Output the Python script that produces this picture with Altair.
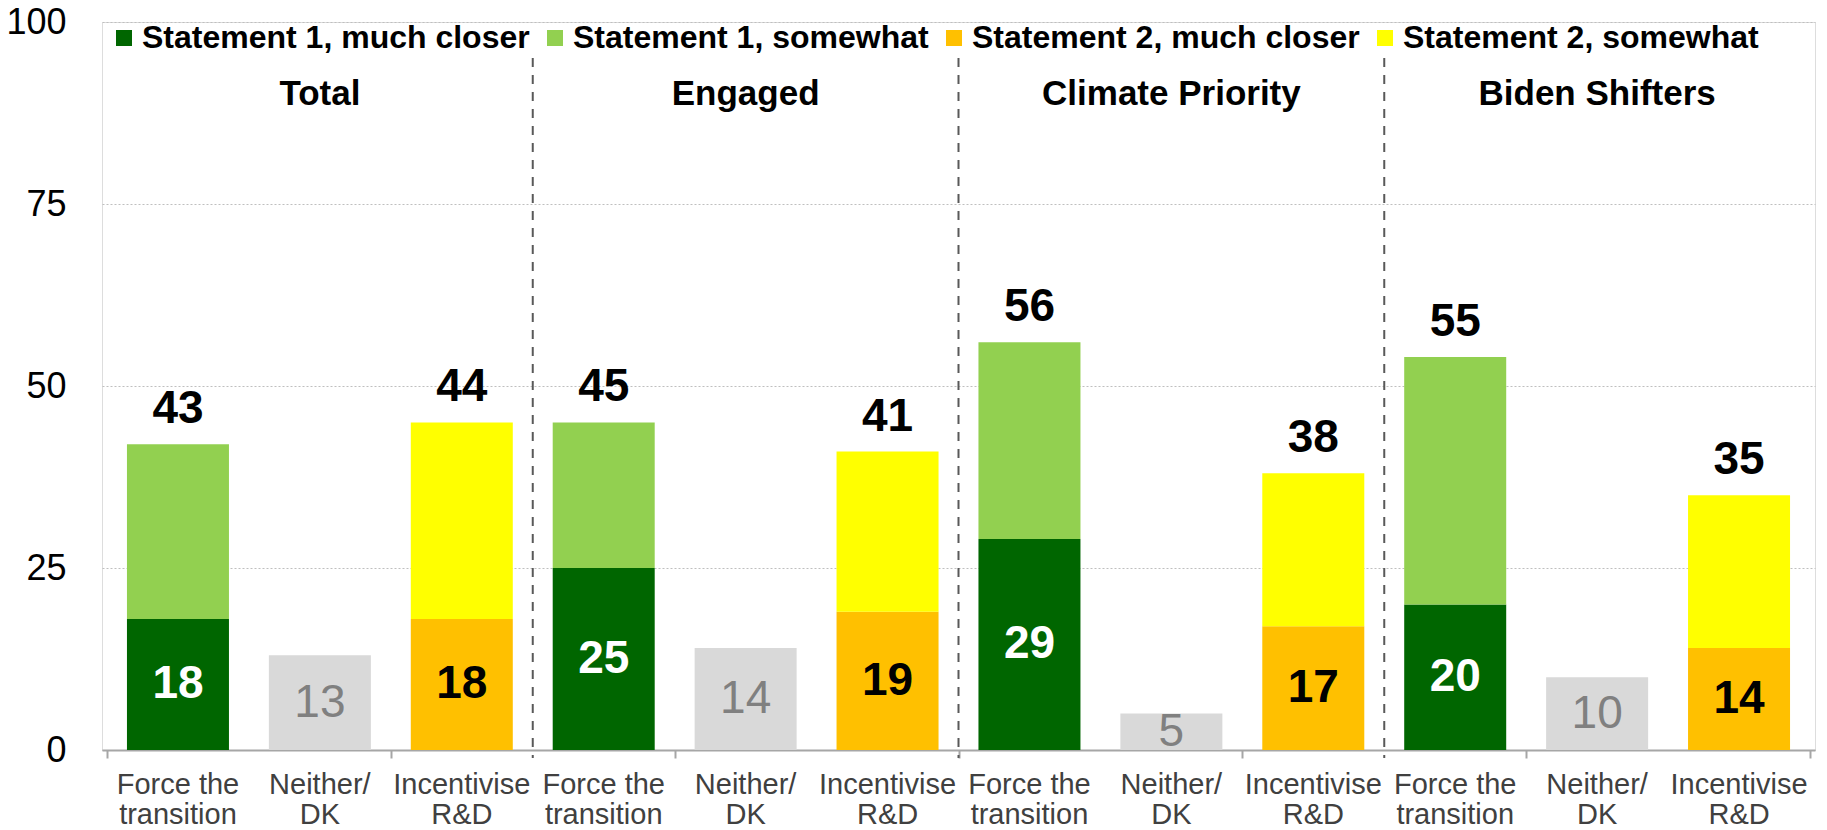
import altair as alt
import pandas as pd

# ---- data ----
groups = ["Total", "Engaged", "Climate Priority", "Biden Shifters"]
categories = ["Force the\ntransition", "Neither/\nDK", "Incentivise\nR&D"]
series_names = ["Statement 1, much closer", "Statement 1, somewhat",
                "Statement 2, much closer", "Statement 2, somewhat"]
s1_much = [18, 25, 29, 20]
s1_some = [24, 20, 27, 34]
s2_much = [18, 19, 17, 14]
s2_some = [27, 22, 21, 21]
neither = [13, 14, 5, 10]
force_totals = [43, 45, 56, 55]
incent_totals = [44, 41, 38, 35]

series_colors = ["#006600", "#92D050", "#FFC000", "#FFFF00"]

FONT = "Liberation Sans"
BAR = 102

# ---- tables built from the arrays ----
stack_rows, neither_rows, bottom_rows, top_rows, cat_rows = [], [], [], [], []
for g, name in enumerate(groups):
    base = g * len(categories)
    p_force, p_nei, p_inc = base + 0.5, base + 1.5, base + 2.5
    stack_rows += [
        dict(pos=p_force, series=series_names[0], value=s1_much[g], o=0),
        dict(pos=p_force, series=series_names[1], value=s1_some[g], o=1),
        dict(pos=p_inc, series=series_names[2], value=s2_much[g], o=0),
        dict(pos=p_inc, series=series_names[3], value=s2_some[g], o=1),
    ]
    neither_rows.append(dict(pos=p_nei, value=neither[g]))
    bottom_rows += [
        dict(pos=p_force, value=s1_much[g], kind="force"),
        dict(pos=p_inc, value=s2_much[g], kind="incent"),
    ]
    top_rows += [
        dict(pos=p_force, height=s1_much[g] + s1_some[g], label=force_totals[g]),
        dict(pos=p_inc, height=s2_much[g] + s2_some[g], label=incent_totals[g]),
    ]
    for k, c in enumerate(categories):
        cat_rows.append(dict(pos=base + k + 0.5, label=c))

n_slots = len(groups) * len(categories)
df_stack = pd.DataFrame(stack_rows)
df_nei = pd.DataFrame(neither_rows)
df_bottom = pd.DataFrame(bottom_rows)
df_top = pd.DataFrame(top_rows)
df_cat = pd.DataFrame(cat_rows)
df_group = pd.DataFrame(dict(group=groups,
                             pos=[g * len(categories) + len(categories) / 2 for g in range(len(groups))]))
df_div = pd.DataFrame(dict(b=[g * len(categories) for g in range(1, len(groups))]))

xscale = alt.Scale(domain=[0, n_slots], nice=False, zero=False)
yscale = alt.Scale(domain=[0, 100], nice=False)

x_axis = alt.Axis(values=list(range(0, n_slots + 1, 2)), labels=False, ticks=True,
                  tickSize=8, tickColor="#a6a6a6", tickWidth=2, domainColor="#a6a6a6",
                  domainWidth=2, grid=False, title=None)
y_axis = alt.Axis(values=[0, 25, 50, 75, 100], domain=False, ticks=False, tickSize=0,
                  labelFontSize=36, labelColor="#000000", labelFont=FONT, labelPadding=36,
                  grid=True, gridDash=[2, 2], gridColor="#bfbfbf", gridWidth=1, title=None)

bars = alt.Chart(df_stack).mark_bar(size=BAR).encode(
    x=alt.X("pos:Q", scale=xscale, axis=x_axis),
    y=alt.Y("value:Q", stack="zero", scale=yscale, axis=y_axis),
    color=alt.Color("series:N", scale=alt.Scale(domain=series_names, range=series_colors),
                    legend=alt.Legend(orient="none", legendX=6, legendY=0, direction="horizontal",
                                      columns=4, title=None, symbolType="square", symbolSize=256,
                                      symbolStrokeWidth=0, labelFont=FONT, labelFontSize=32,
                                      labelFontWeight="bold", labelColor="#000000", labelOffset=2,
                                      columnPadding=9, labelLimit=1000, padding=0)),
    order=alt.Order("o:Q"),
)

nei_bars = alt.Chart(df_nei).mark_bar(size=BAR, color="#D9D9D9").encode(
    x=alt.X("pos:Q", scale=xscale), y=alt.Y("value:Q", scale=yscale))

inner_force = alt.Chart(df_bottom).transform_filter(alt.datum.kind == "force").transform_calculate(
    mid="datum.value / 2").mark_text(font=FONT, fontSize=46, fontWeight="bold", color="#ffffff",
                                     baseline="middle").encode(
    x=alt.X("pos:Q", scale=xscale), y=alt.Y("mid:Q", scale=yscale), text="value:Q")

inner_inc = alt.Chart(df_bottom).transform_filter(alt.datum.kind == "incent").transform_calculate(
    mid="datum.value / 2").mark_text(font=FONT, fontSize=46, fontWeight="bold", color="#000000",
                                     baseline="middle").encode(
    x=alt.X("pos:Q", scale=xscale), y=alt.Y("mid:Q", scale=yscale), text="value:Q")

inner_nei = alt.Chart(df_nei).transform_calculate(mid="datum.value / 2").mark_text(
    font=FONT, fontSize=46, color="#808080", baseline="middle").encode(
    x=alt.X("pos:Q", scale=xscale), y=alt.Y("mid:Q", scale=yscale), text="value:Q")

top_text = alt.Chart(df_top).mark_text(font=FONT, fontSize=46, fontWeight="bold", color="#000000",
                                       baseline="alphabetic", dy=-21).encode(
    x=alt.X("pos:Q", scale=xscale), y=alt.Y("height:Q", scale=yscale), text="label:Q")

cat_text = alt.Chart(df_cat).mark_text(font=FONT, fontSize=29, color="#404040", baseline="alphabetic",
                                       lineBreak="\n", lineHeight=30).encode(
    x=alt.X("pos:Q", scale=xscale), y=alt.value(772), text="label:N")

group_text = alt.Chart(df_group).mark_text(font=FONT, fontSize=35, fontWeight="bold", color="#000000",
                                           baseline="alphabetic").encode(
    x=alt.X("pos:Q", scale=xscale), y=alt.value(83), text="group:N")

dividers = alt.Chart(df_div).mark_rule(color="#595959", strokeWidth=2, strokeDash=[9, 8]).encode(
    x=alt.X("b:Q", scale=xscale), y=alt.value(36), y2=alt.value(736))

chart = alt.layer(
    bars, nei_bars, dividers, inner_force, inner_inc, inner_nei, top_text, cat_text, group_text
).properties(
    width=1713, height=728,
    autosize=alt.AutoSizeParams(type="none"),
    padding={"left": 94, "top": 14, "right": 4, "bottom": 78},
).configure_view(stroke=None).configure(font=FONT)

chart.save("out.html", embed_options={"renderer": "svg", "actions": False})
